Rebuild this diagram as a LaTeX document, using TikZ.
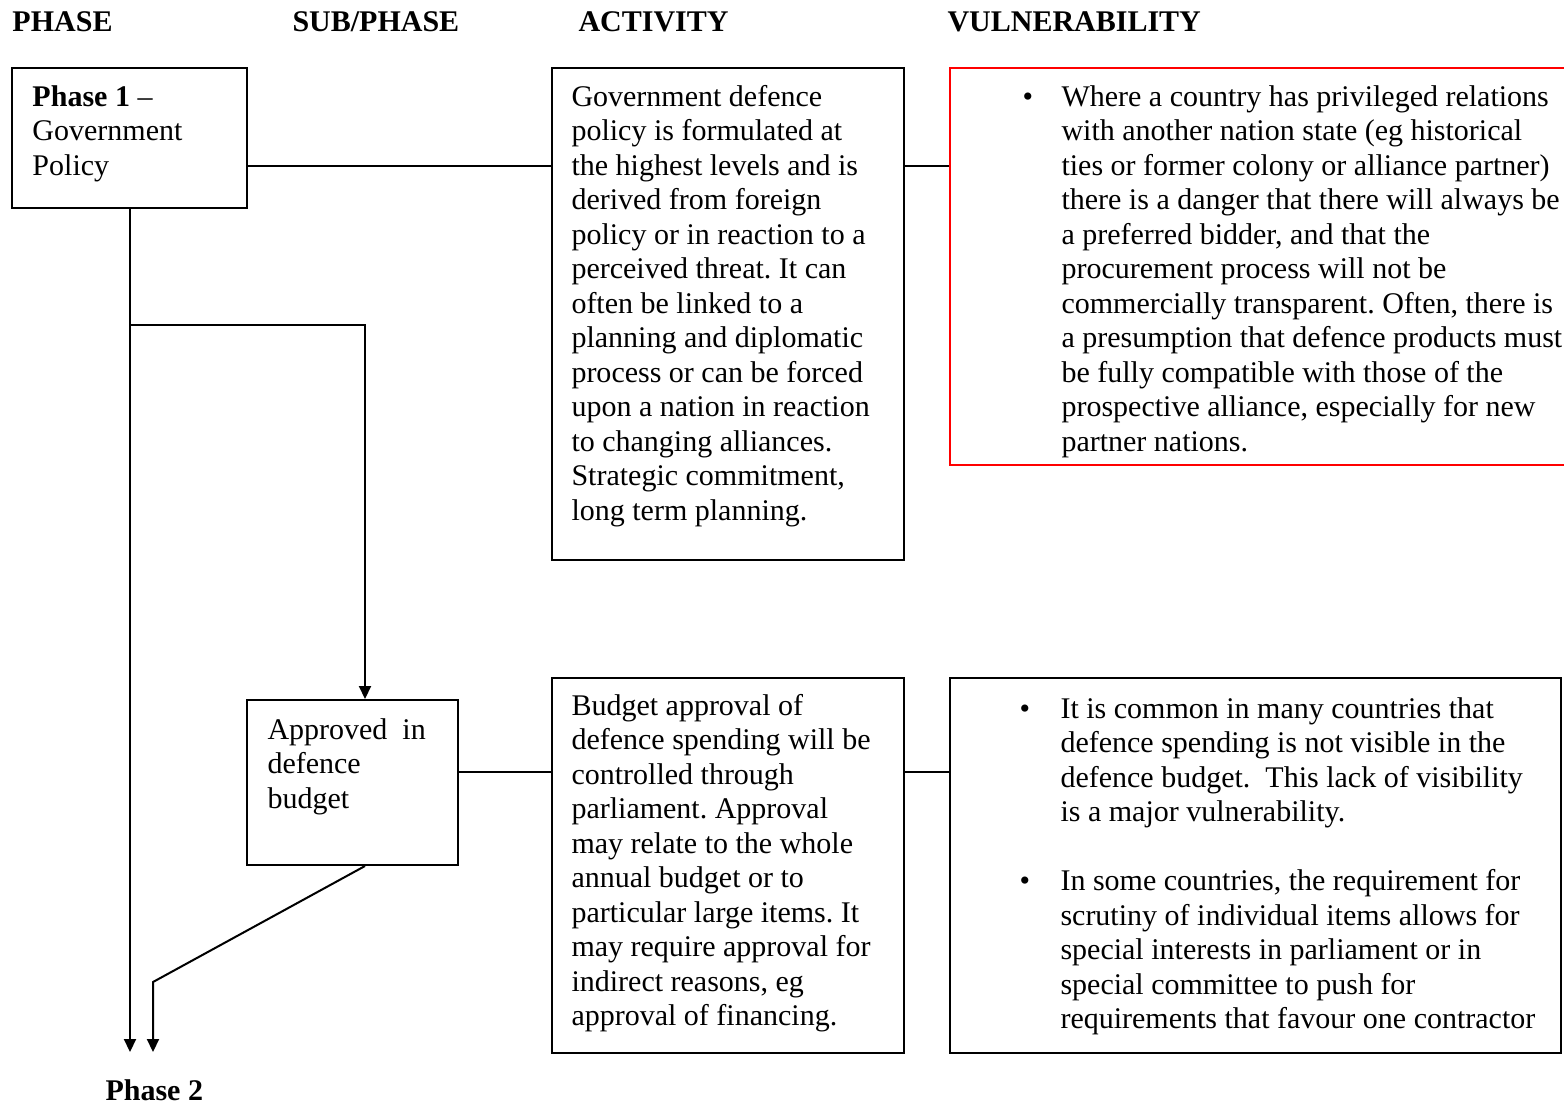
\documentclass[tikz,border=0pt]{standalone}
\usepackage{fontspec}
\setmainfont{Liberation Serif}
\usetikzlibrary{arrows.meta,fit}
\frenchspacing

\tikzset{
  box/.style={draw, line width=0.8pt, inner sep=0pt},
  redbox/.style={draw=red, line width=0.8pt, inner sep=0pt},
  link/.style={line width=0.8pt},
  arr/.style={line width=0.8pt, -{Triangle[length=5.2pt,width=4.8pt]}},
  txt/.style={inner sep=0pt, anchor=base west, align=flush left,
    font=\fontsize{12}{13.8}\selectfont},
  head/.style={inner sep=0pt, anchor=base west,
    font=\fontsize{12}{13.8}\selectfont\bfseries},
}

\begin{document}
\begin{tikzpicture}[x=0.4pt,y=-0.4pt]
\path[use as bounding box] (0,0) rectangle (1564,1107);
\clip (0,0) rectangle (1564,1107);

% column headings
\node[head] (hphase) at (12,31) {PHASE};
\node[head] (hsub) at (292,31) {SUB/PHASE};
\node[head] (hact) at (578,31) {ACTIVITY};
\node[head] (hvul) at (947,31) {VULNERABILITY};

% frames
\node[box, fit={(12,68) (247,208)}] (p1) {};
\node[box, fit={(552,68) (904,560)}] (a1) {};
\node[redbox, fit={(950,68) (1590,465)}] (v1) {};
\node[box, fit={(247,700) (458,865)}] (s1) {};
\node[box, fit={(552,678) (904,1053)}] (a2) {};
\node[box, fit={(950,678) (1561,1053)}] (v2) {};

% texts
\node[txt, text width=90pt] (p1t) at (32,106)
  {\textbf{Phase 1} –\\Government\\Policy};

\node[txt, text width=135pt] (a1t) at (571,106)
  {Government defence\\
   policy is formulated at\\
   the highest levels and is\\
   derived from foreign\\
   policy or in reaction to a\\
   perceived threat. It can\\
   often be linked to a\\
   planning and diplomatic\\
   process or can be forced\\
   upon a nation in reaction\\
   to changing alliances.\\
   Strategic commitment,\\
   long term planning.};

\node[txt] (v1b) at (1022,106) {\textbullet};
\node[txt, text width=210pt] (v1t) at (1061,106)
  {Where a country has privileged relations\\
   with another nation state (eg historical\\
   ties or former colony or alliance partner)\\
   there is a danger that there will always be\\
   a preferred bidder, and that the\\
   procurement process will not be\\
   commercially transparent. Often, there is\\
   a presumption that defence products must\\
   be fully compatible with those of the\\
   prospective alliance, especially for new\\
   partner nations.};

\node[txt, text width=80pt] (s1t) at (267,739)
  {Approved\ \ in\\defence\\budget};

\node[txt, text width=135pt] (a2t) at (571,715)
  {Budget approval of\\
   defence spending will be\\
   controlled through\\
   parliament. Approval\\
   may relate to the whole\\
   annual budget or to\\
   particular large items. It\\
   may require approval for\\
   indirect reasons, eg\\
   approval of financing.};

\node[txt] (v2b1) at (1019,718) {\textbullet};
\node[txt] (v2b2) at (1019,890.5) {\textbullet};
\node[txt, text width=200pt] (v2t) at (1060,718)
  {It is common in many countries that\\
   defence spending is not visible in the\\
   defence budget.\ \ This lack of visibility\\
   is a major vulnerability.\\[13.8pt]
   In some countries, the requirement for\\
   scrutiny of individual items allows for\\
   special interests in parliament or in\\
   special committee to push for\\
   requirements that favour one contractor};

\node[head] (ph2) at (105,1100) {Phase 2};

% horizontal links between columns
\coordinate (r1) at (0,166);
\coordinate (r2) at (0,772);
\draw[link] (p1.east |- r1) -- (a1.west |- r1);
\draw[link] (a1.east |- r1) -- (v1.west |- r1);
\draw[link] (s1.east |- r2) -- (a2.west |- r2);
\draw[link] (a2.east |- r2) -- (v2.west |- r2);

% flow towards phase 2
\coordinate (t1) at (130,1052);
\coordinate (b0) at (130,325);
\coordinate (b1) at (365,325);
\coordinate (k) at (153,982);
\coordinate (t2) at (153,1052);
\draw[arr] (p1.south -| t1) -- (t1);
\draw[arr] (b0) -- (b1) -- (b1 |- s1.north);
\draw[arr] (b1 |- s1.south) -- (k) -- (t2);
\end{tikzpicture}
\end{document}
